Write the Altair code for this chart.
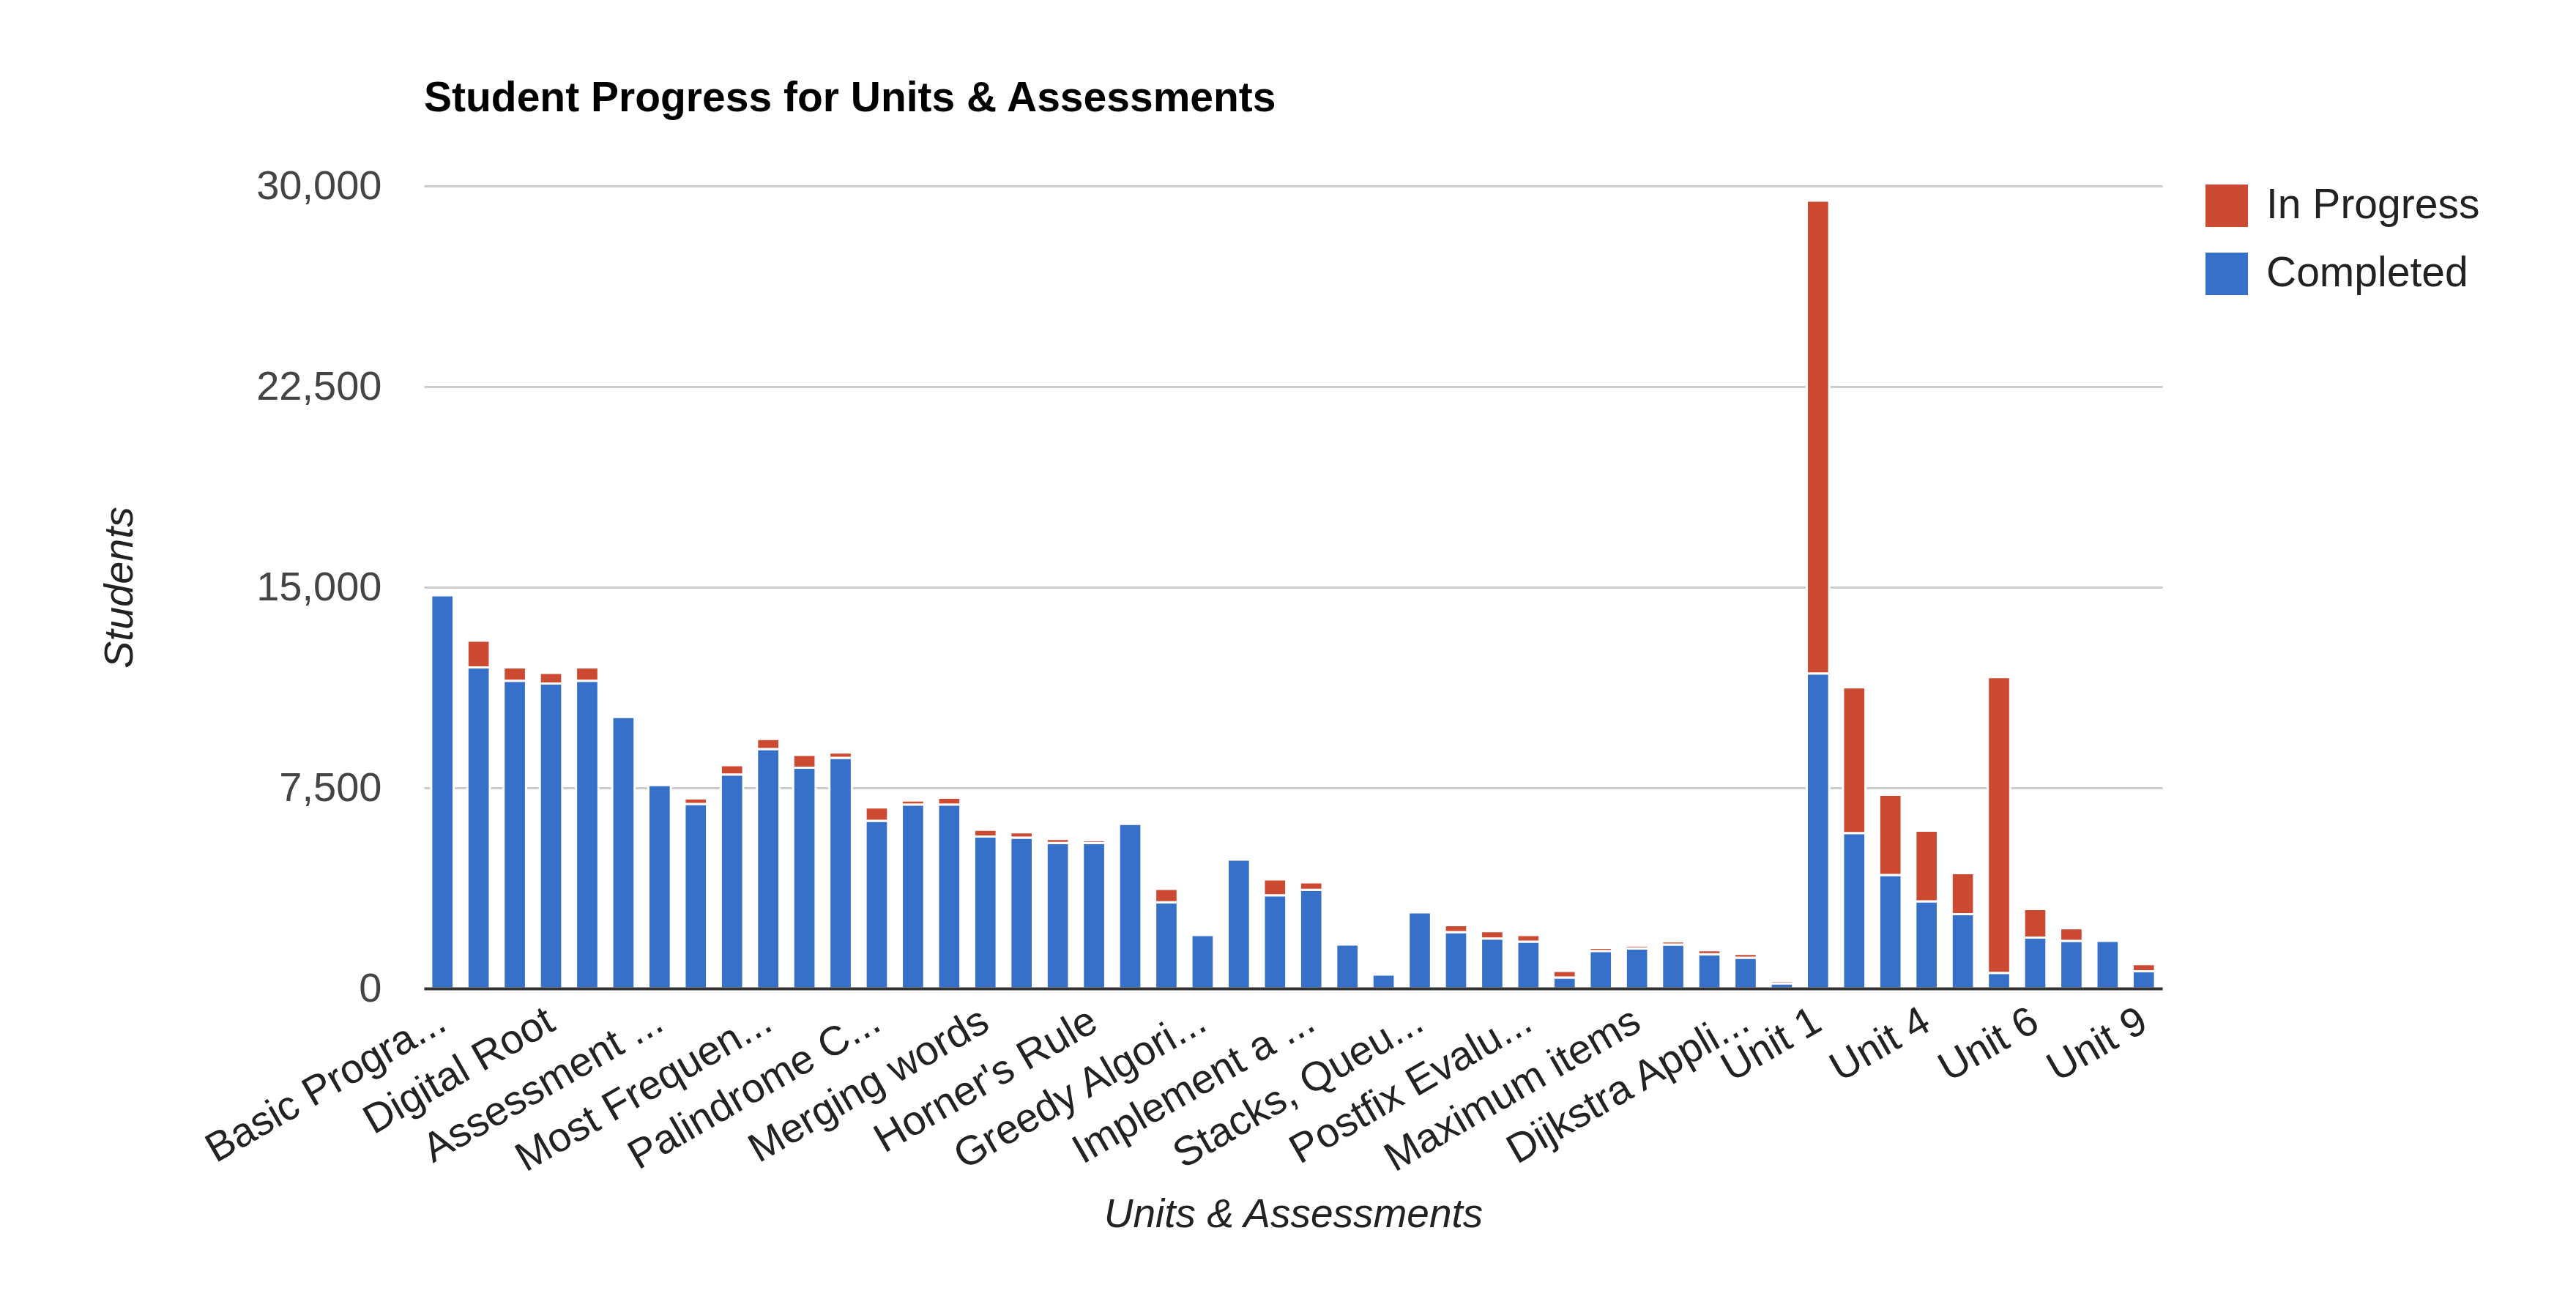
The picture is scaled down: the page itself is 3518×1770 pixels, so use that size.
import json
import altair as alt
import pandas as pd

# Category axis labels (Google Charts shows only every third one)
labels = [
    "Basic Progra...", "", "", "Digital Root", "", "", "Assessment ...", "", "",
    "Most Frequen...", "", "", "Palindrome C...", "", "", "Merging words", "", "",
    "Horner's Rule", "", "", "Greedy Algori...", "", "", "Implement a ...", "", "",
    "Stacks, Queu...", "", "", "Postfix Evalu...", "", "", "Maximum items", "", "",
    "Dijkstra Appli...", "", "", "Unit 1", "", "", "Unit 4", "", "", "Unit 6", "", "",
    "Unit 9",
]

completed = [
    14700, 12000, 11500, 11400, 11500, 10150, 7600, 6900, 8000, 8950,
    8250, 8620, 6270, 6880, 6880, 5680, 5640, 5440, 5440, 6150,
    3220, 2000, 4820, 3480, 3690, 1640, 520, 2850, 2110, 1870,
    1750, 410, 1400, 1500, 1640, 1280, 1150, 190, 0, 11780,
    5810, 4240, 3260, 2780, 580, 1900, 1780, 1780, 640,
]

in_progress = [
    0, 1000, 500, 400, 500, 0, 0, 200, 350, 380,
    480, 200, 500, 150, 250, 250, 200, 150, 100, 0,
    500, 0, 0, 600, 280, 0, 0, 0, 260, 270,
    250, 250, 120, 100, 120, 150, 140, 100, 0, 17670,
    5450, 3000, 2640, 1530, 11060, 1070, 470, 0, 270,
]

y_ticks = [0, 7500, 15000, 22500, 30000]

series_names = ["In Progress", "Completed"]
series_colors = ["#cc4a31", "#3770c9"]

rows = []
for i in range(len(labels)):
    if completed[i] > 0:
        rows.append({"idx": i, "series": "Completed", "ord": 0, "value": completed[i]})
    if in_progress[i] > 0:
        rows.append({"idx": i, "series": "In Progress", "ord": 1, "value": in_progress[i]})
df = pd.DataFrame(rows)

FONT = "Liberation Sans"
label_expr = json.dumps(labels) + "[datum.value]"

chart = (
    alt.Chart(df)
    .mark_bar(stroke="white", strokeWidth=3)
    .encode(
        x=alt.X(
            "idx:O",
            scale=alt.Scale(paddingInner=0.38, paddingOuter=0.2),
            axis=alt.Axis(
                title="Units & Assessments",
                titleFont=FONT,
                titleFontSize=55,
                titleFontStyle="italic",
                titleFontWeight="normal",
                titleColor="#222222",
                titlePadding=82,
                labelExpr=label_expr,
                labelAngle=330,
                labelAlign="right",
                labelBaseline="middle",
                labelPadding=40,
                labelFont=FONT,
                labelFontSize=56,
                labelColor="#222222",
                labelOverlap=False,
                labelLimit=0,
                ticks=False,
                tickSize=0,
                domainColor="#333333",
                domainWidth=4,
                grid=False,
                zindex=1,
            ),
        ),
        y=alt.Y(
            "value:Q",
            stack="zero",
            scale=alt.Scale(domain=[0, 30000], nice=False),
            axis=alt.Axis(
                title="Students",
                titleFont=FONT,
                titleFontSize=56,
                titleFontStyle="italic",
                titleFontWeight="normal",
                titleColor="#222222",
                titlePadding=187,
                values=y_ticks,
                format=",.0f",
                labelFont=FONT,
                labelFontSize=56,
                labelColor="#444444",
                labelPadding=58,
                ticks=False,
                tickSize=0,
                domain=False,
                gridColor="#cccccc",
                gridWidth=3,
            ),
        ),
        color=alt.Color(
            "series:N",
            scale=alt.Scale(domain=series_names, range=series_colors),
            legend=alt.Legend(
                title=None,
                orient="none",
                legendX=2433,
                legendY=-2,
                symbolType="square",
                symbolSize=3364,
                symbolStrokeWidth=0,
                symbolOpacity=1,
                labelFont=FONT,
                labelFontSize=57,
                labelColor="#222222",
                labelOffset=25,
                labelLimit=1000,
                rowPadding=35,
                padding=0,
            ),
        ),
        order=alt.Order("ord:Q"),
    )
    .properties(
        width=2374,
        height=1096,
        title=alt.TitleParams(
            "Student Progress for Units & Assessments",
            anchor="start",
            frame="group",
            font=FONT,
            fontSize=57,
            fontWeight="bold",
            color="#000000",
            offset=62,
        ),
        autosize=alt.AutoSizeParams(type="none"),
        padding={"left": 571, "top": 246, "right": 555, "bottom": 412},
        background="white",
    )
    .configure_view(stroke=None)
)

chart.save("out.html", embed_options={"renderer": "svg", "actions": False})
